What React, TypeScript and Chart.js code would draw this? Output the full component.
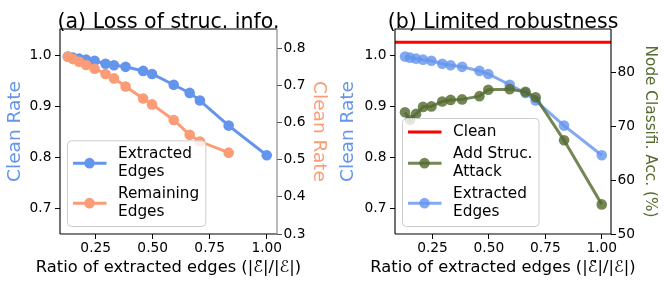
import React, { useEffect, useRef } from "react";
import { Chart, registerables } from "chart.js";

Chart.register(...registerables);

// ---------------- data ----------------
const ratios = [0.128, 0.15, 0.177, 0.208, 0.245, 0.293, 0.33, 0.381, 0.458, 0.497, 0.592, 0.662, 0.707, 0.833, 1.0];
const extractedCleanRate = [0.997, 0.995, 0.993, 0.991, 0.989, 0.983, 0.98, 0.977, 0.969, 0.963, 0.942, 0.926, 0.911, 0.862, 0.804];
const remainingCleanRate = [0.777, 0.771, 0.764, 0.755, 0.745, 0.731, 0.719, 0.697, 0.665, 0.649, 0.607, 0.567, 0.549, 0.519];
const attackAcc = [72.6, 71.2, 72.3, 73.6, 73.7, 74.6, 74.9, 75.0, 75.6, 76.8, 76.9, 76.4, 75.4, 67.4, 55.5];
const cleanAcc = 85.6;

const xTicks = [0.25, 0.5, 0.75, 1.0];
const cleanRateTicks = [0.7, 0.8, 0.9, 1.0];
const remainingTicks = [0.3, 0.4, 0.5, 0.6, 0.7, 0.8];
const accTicks = [50, 60, 70, 80];

const titleA = "(a) Loss of struc. info.";
const titleB = "(b) Limited robustness";
const xTitle = "Ratio of extracted edges (|\u2130\u0303|/|\u2130|)";
const yTitleClean = "Clean Rate";
const yTitleAcc = "Node Classifi. Acc. (%)";

// ---------------- style ----------------
const FAMILY = "'DejaVu Sans', sans-serif";
const BLUE = "#6495ED";
const BLUE_A = "rgba(100,149,237,0.8)";
const SALMON = "#FC9C76";
const GREEN = "#556B2F";
const GREEN_A = "rgba(85,107,47,0.82)";
const RED = "#FF0000";

type LegendItem = { lines: string[]; color: string; marker: boolean };

function makeDeco(title: string, rightSpine: string, items: LegendItem[]) {
  return {
    id: "deco",
    afterDraw(chart: any) {
      const { ctx, chartArea: a } = chart;
      ctx.save();
      // frame
      ctx.lineWidth = 1.1;
      ctx.strokeStyle = "#000";
      ctx.beginPath();
      ctx.moveTo(a.left, a.bottom);
      ctx.lineTo(a.left, a.top);
      ctx.lineTo(a.right, a.top);
      ctx.moveTo(a.left, a.bottom);
      ctx.lineTo(a.right, a.bottom);
      ctx.stroke();
      ctx.strokeStyle = rightSpine;
      ctx.beginPath();
      ctx.moveTo(a.right, a.top);
      ctx.lineTo(a.right, a.bottom);
      ctx.stroke();
      // title
      ctx.font = `20.5px ${FAMILY}`;
      ctx.fillStyle = "#000";
      ctx.textAlign = "center";
      ctx.textBaseline = "alphabetic";
      ctx.fillText(title, (a.left + a.right) / 2, a.top - 1);
      // x-axis title
      ctx.font = `16.3px ${FAMILY}`;
      ctx.textBaseline = "middle";
      ctx.fillText(xTitle, (a.left + a.right) / 2, 268);
      // legend
      const LS = 17.7;
      const EG = 22.3;
      let y = 0;
      const centers: number[][] = [];
      items.forEach((it, i) => {
        if (i > 0) y += EG;
        const cs: number[] = [];
        it.lines.forEach((_l, j) => {
          if (j > 0) y += LS;
          cs.push(y);
        });
        centers.push(cs);
      });
      const boxBottom = a.bottom - 7.5;
      const lastCenter = boxBottom - 14.5;
      const firstCenter = lastCenter - y;
      const boxTop = firstCenter - 13.5;
      const boxLeft = a.left + 7.5;
      const textX = a.left + 58;
      ctx.font = `15.3px ${FAMILY}`;
      let maxW = 0;
      items.forEach((it) => it.lines.forEach((l) => (maxW = Math.max(maxW, ctx.measureText(l).width))));
      const boxRight = textX + maxW + 6.6;
      ctx.beginPath();
      (ctx as any).roundRect(boxLeft, boxTop, boxRight - boxLeft, boxBottom - boxTop, 4);
      ctx.fillStyle = "rgba(255,255,255,0.8)";
      ctx.fill();
      ctx.lineWidth = 1;
      ctx.strokeStyle = "#cccccc";
      ctx.stroke();
      items.forEach((it, i) => {
        const cs = centers[i];
        const my = firstCenter + cs.reduce((s, v) => s + v, 0) / cs.length;
        ctx.strokeStyle = it.color;
        ctx.lineWidth = 3;
        ctx.beginPath();
        ctx.moveTo(a.left + 13, my);
        ctx.lineTo(a.left + 46.5, my);
        ctx.stroke();
        if (it.marker) {
          ctx.fillStyle = it.color;
          ctx.beginPath();
          ctx.arc(a.left + 29.5, my, 5.3, 0, Math.PI * 2);
          ctx.fill();
        }
        ctx.fillStyle = "#000";
        ctx.textAlign = "left";
        ctx.textBaseline = "middle";
        it.lines.forEach((l, j) => ctx.fillText(l, textX, firstCenter + cs[j]));
      });
      ctx.restore();
    },
  };
}

function pts(vals: number[]) {
  return vals.map((v, i) => ({ x: ratios[i], y: v }));
}

function xScale(min: number, max: number) {
  return {
    type: "linear",
    min,
    max,
    afterBuildTicks: (s: any) => {
      s.ticks = xTicks.map((v) => ({ value: v }));
    },
    afterFit: (s: any) => {
      s.height = 53;
    },
    ticks: {
      callback: (v: any) => Number(v).toFixed(2),
      font: { family: FAMILY, size: 13.8 },
      color: "#000",
      padding: 1,
      autoSkip: false,
      maxRotation: 0,
    },
    grid: { display: true, drawOnChartArea: false, drawTicks: true, tickLength: 5, color: "#000", lineWidth: 1 },
    border: { display: false },
    title: { display: false },
  };
}

function yScale(opts: {
  position: string;
  min: number;
  max: number;
  ticks: number[];
  digits: number;
  width: number;
  title: string;
  titleColor: string;
  titleSize: number;
  titlePad: number;
  tickPad: number;
  tickColor: string;
}) {
  return {
    type: "linear",
    position: opts.position,
    min: opts.min,
    max: opts.max,
    afterBuildTicks: (s: any) => {
      s.ticks = opts.ticks.map((v) => ({ value: v }));
    },
    afterFit: (s: any) => {
      s.width = opts.width;
    },
    ticks: {
      callback: (v: any) => Number(v).toFixed(opts.digits),
      font: { family: FAMILY, size: 13.8 },
      color: "#000",
      padding: opts.tickPad,
      autoSkip: false,
    },
    grid: { display: true, drawOnChartArea: false, drawTicks: true, tickLength: 5, color: opts.tickColor, lineWidth: 1 },
    border: { display: false },
    title: {
      display: true,
      text: opts.title,
      color: opts.titleColor,
      font: { family: FAMILY, size: opts.titleSize, lineHeight: 1.2 },
      padding: { top: opts.titlePad, bottom: 0 },
    },
  };
}

function lineDs(label: string, data: any[], color: string, yAxisID: string, marker = true) {
  return {
    label,
    data,
    yAxisID,
    borderColor: color,
    backgroundColor: color,
    borderWidth: 3,
    pointRadius: marker ? 5.3 : 0,
    pointBorderWidth: 0,
    pointBackgroundColor: color,
    pointHoverRadius: marker ? 5.3 : 0,
    tension: 0,
  };
}

const baseOptions = {
  responsive: false,
  animation: false,
  devicePixelRatio: 1,
  events: [],
  layout: { padding: { top: 29, left: 0, right: 0, bottom: 0 } },
  plugins: { legend: { display: false }, tooltip: { enabled: false }, title: { display: false } },
};

function configA(): any {
  return {
    type: "line",
    data: {
      datasets: [
        lineDs("Remaining Edges", pts(remainingCleanRate), SALMON, "y2"),
        lineDs("Extracted Edges", pts(extractedCleanRate), BLUE, "y"),
      ],
    },
    options: {
      ...baseOptions,
      scales: {
        x: xScale(0.0934, 1.045),
        y: yScale({
          position: "left", min: 0.65, max: 1.051, ticks: cleanRateTicks, digits: 1, width: 60,
          title: yTitleClean, titleColor: BLUE, titleSize: 18.5, titlePad: 3.9, tickPad: 3.5, tickColor: "#000",
        }),
        y2: yScale({
          position: "right", min: 0.3, max: 0.852, ticks: remainingTicks, digits: 1, width: 55,
          title: yTitleClean, titleColor: SALMON, titleSize: 18.5, titlePad: 1.9, tickPad: 1.5, tickColor: "#555",
        }),
      },
    },
    plugins: [
      makeDeco(titleA, "#808080", [
        { lines: ["Extracted", "Edges"], color: BLUE, marker: true },
        { lines: ["Remaining", "Edges"], color: SALMON, marker: true },
      ]),
    ],
  };
}

function configB(): any {
  const xMin = 0.0836;
  const xMax = 1.041;
  return {
    type: "line",
    data: {
      datasets: [
        lineDs("Add Struc. Attack", pts(attackAcc), GREEN_A, "y2"),
        lineDs("Clean", [{ x: xMin, y: cleanAcc }, { x: xMax, y: cleanAcc }], RED, "y2", false),
        lineDs("Extracted Edges", pts(extractedCleanRate), BLUE_A, "y"),
      ],
    },
    options: {
      ...baseOptions,
      scales: {
        x: xScale(xMin, xMax),
        y: yScale({
          position: "left", min: 0.65, max: 1.051, ticks: cleanRateTicks, digits: 1, width: 63,
          title: yTitleClean, titleColor: BLUE, titleSize: 18.5, titlePad: 5.2, tickPad: 3.5, tickColor: "#000",
        }),
        y2: yScale({
          position: "right", min: 50, max: 88.07, ticks: accTicks, digits: 0, width: 53,
          title: yTitleAcc, titleColor: GREEN, titleSize: 15.3, titlePad: 4.8, tickPad: 1.5, tickColor: "#000",
        }),
      },
    },
    plugins: [
      makeDeco(titleB, "#000", [
        { lines: ["Clean"], color: RED, marker: false },
        { lines: ["Add Struc.", "Attack"], color: GREEN_A, marker: true },
        { lines: ["Extracted", "Edges"], color: BLUE_A, marker: true },
      ]),
    ],
  };
}

function Panel({ make, left }: { make: () => any; left: number }) {
  const ref = useRef<HTMLCanvasElement>(null);
  useEffect(() => {
    const chart = new Chart(ref.current as HTMLCanvasElement, make());
    return () => chart.destroy();
  }, []);
  return (
    <canvas
      ref={ref}
      width={332}
      height={287}
      style={{ position: "absolute", left, top: 0, width: 332, height: 287 }}
    />
  );
}

export default function App() {
  return (
    <div style={{ position: "fixed", left: 0, top: 0, width: 664, height: 287, background: "#fff" }}>
      <Panel make={configA} left={0} />
      <Panel make={configB} left={332} />
    </div>
  );
}
